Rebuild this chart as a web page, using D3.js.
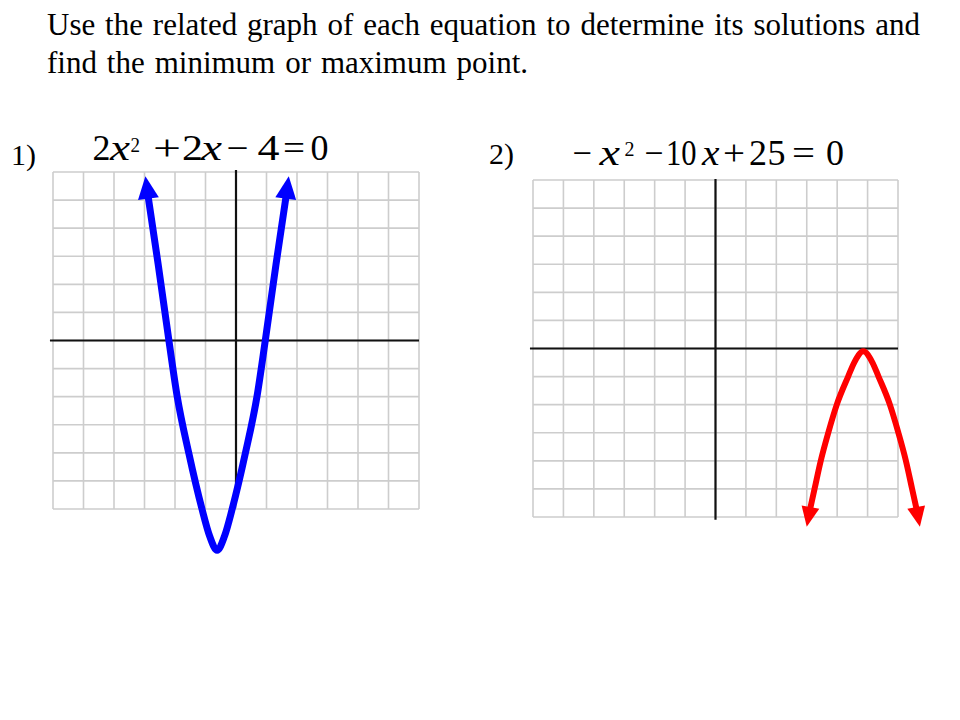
<!DOCTYPE html>
<html>
<head>
<meta charset="utf-8">
<script src="https://cdn.jsdelivr.net/npm/d3@7"></script>
<style>
  body { margin: 0; background: #fff; }
  svg { display: block; }
  text { font-family: "Times New Roman", "Liberation Serif", serif; fill: #000; }
</style>
</head>
<body>
<div id="slide"></div>
<script>
  // one grid line per unit, both graphs go from -6 to 6
  const grid_ticks = [-6, -5, -4, -3, -2, -1, 0, 1, 2, 3, 4, 5, 6];

  const title_lines = [
    "Use the related graph of each equation to determine its solutions and",
    "find the minimum or maximum point."
  ];
  const labels = ["1)", "2)"];

  // equation tokens: [text, kind]  n = normal, i = italic variable, s = superscript
  const eq1_tokens = [["2","n"],["x","i"],["2","s"],["+","n"],["2","n"],["x","i"],["\u2212","n"],["4","n"],["=","n"],["0","n"]];
  const eq2_tokens = [["\u2212","n"],["x","i"],["2","s"],["\u2212","n"],["10","n"],["x","i"],["+","n"],["2","n"],["5","n"],["=","n"],["0","n"]];

  // 1) blue curve (grid units), arrow base to arrow base
  const eq1_x = [-2.88, -2.55, -2.20, -1.93, -1.55, -1.12, -0.865, -0.62, -0.375, -0.12, 0.31, 0.69, 0.96, 1.31, 1.64];
  const eq1_y = [5.12, 2.70, 0, -1.98, -4.0, -5.98, -6.96, -7.47, -6.96, -5.98, -4.0, -1.98, 0, 2.70, 5.12];
  const eq1_tip_x = [-2.97, 1.73];
  const eq1_tip_y = [5.85, 5.85];

  // 2) red curve
  const eq2_x = [3.11, 3.26, 3.46, 3.71, 3.99, 4.36, 4.56, 4.86, 5.16, 5.36, 5.73, 6.01, 6.26, 6.46, 6.61];
  const eq2_y = [-5.72, -4.98, -4.0, -2.99, -1.99, -1.0, -0.5, -0.1, -0.5, -1.0, -1.99, -2.99, -4.0, -4.98, -5.72];
  const eq2_tip_x = [3.0, 6.72];
  const eq2_tip_y = [-6.35, -6.35];

  const width = 960, height = 720;

  const svg = d3.select("#slide")
    .append("svg")
      .attr("width", width)
      .attr("height", height);

  /* Title, justified to the width of the slide text box */
  const title_right = [920, 528];
  title_lines.forEach((line, i) => {
    const t = svg.append("text")
      .attr("x", 47)
      .attr("y", 34.5 + i * 38.8)
      .style("font-size", "31px")
      .text(line);
    const len = t.node().getComputedTextLength();
    const spaces = line.split(" ").length - 1;
    t.style("word-spacing", Math.max(0, (title_right[i] - 47 - len) / spaces) + "px");
  });

  svg.append("text").attr("x", 11).attr("y", 165).style("font-size", "30px").text(labels[0]);
  svg.append("text").attr("x", 489).attr("y", 164).style("font-size", "30px").text(labels[1]);

  // the equations come from an equation editor, glyphs are wider than plain Times,
  // so every glyph gets its own left edge and width
  const drawEquation = (tokens, layout, baseline, supBaseline) => {
    const g = svg.append("g");
    tokens.forEach((tk, i) => {
      const t = g.append("text")
        .attr("x", layout[i][0])
        .attr("y", tk[1] === "s" ? supBaseline : baseline)
        .style("font-size", tk[1] === "s" ? "20px" : "35px")
        .style("font-style", tk[1] === "i" ? "italic" : "normal")
        .text(tk[0]);
      if (layout[i][1]) {
        t.attr("textLength", layout[i][1]).attr("lengthAdjust", "spacingAndGlyphs");
      }
    });
  };

  drawEquation(eq1_tokens,
    [[92.5,18],[110,20],[130.5,9.5],[153,28],[182,21],[201,21],[226.5,22],[257.5,22],[283,22],[310.5,18]],
    160, 152);
  drawEquation(eq2_tokens,
    [[572.5,19.5],[599.5,20.5],[624.5,10],[644.5,19],[666,30.5],[702,17.5],[723,22],[749,18],[767.5,18],[792,23],[826,18]],
    165, 156);

  const createGraph = (opts) => {
    const x = d3.scaleLinear().domain([-6, 6]).range(opts.xRange);
    const y = d3.scaleLinear().domain([-6, 6]).range(opts.yRange);
    const g = svg.append("g");

    // light grid
    g.append("g")
      .selectAll("line")
      .data(grid_ticks)
      .join("line")
        .attr("x1", d => x(d)).attr("x2", d => x(d))
        .attr("y1", y(6)).attr("y2", y(-6))
        .attr("stroke", "#cdcdcd")
        .attr("stroke-width", 1.6);
    g.append("g")
      .selectAll("line")
      .data(grid_ticks)
      .join("line")
        .attr("y1", d => y(d)).attr("y2", d => y(d))
        .attr("x1", x(-6)).attr("x2", x(6))
        .attr("stroke", "#cdcdcd")
        .attr("stroke-width", 1.6);

    // axes
    g.append("line")
      .attr("x1", x(opts.xAxis[0])).attr("x2", x(opts.xAxis[1]))
      .attr("y1", y(0)).attr("y2", y(0))
      .attr("stroke", "#111").attr("stroke-width", 2.2);
    g.append("line")
      .attr("x1", x(0)).attr("x2", x(0))
      .attr("y1", y(opts.yAxis[0])).attr("y2", y(opts.yAxis[1]))
      .attr("stroke", "#111").attr("stroke-width", 2.2);

    // the parabola (x always grows along it, so monotoneX keeps it smooth
    // and flat at the vertex)
    const pts = opts.cx.map((d, i) => [d, opts.cy[i]]);
    const line = d3.line()
      .x(d => x(d[0]))
      .y(d => y(d[1]))
      .curve(d3.curveMonotoneX);
    g.append("path")
      .attr("d", line(pts))
      .attr("fill", "none")
      .attr("stroke", opts.color)
      .attr("stroke-width", opts.strokeWidth)
      .attr("stroke-linejoin", "round");

    // arrow heads, from each end of the curve out to the tip
    const ends = [pts[0], pts[pts.length - 1]];
    ends.forEach((b, i) => {
      const bx = x(b[0]), by = y(b[1]);
      const tx = x(opts.tipX[i]), ty = y(opts.tipY[i]);
      const len = Math.hypot(tx - bx, ty - by);
      const ux = (tx - bx) / len, uy = (ty - by) / len;
      const hw = opts.headHalf;
      const sx = bx - ux * 2, sy = by - uy * 2;
      g.append("path")
        .attr("d", `M${tx},${ty}L${sx - uy * hw},${sy + ux * hw}L${sx + uy * hw},${sy - ux * hw}Z`)
        .attr("fill", opts.color);
    });
  };

  createGraph({
    xRange: [53, 419], yRange: [509, 172],
    xAxis: [-6.1, 6], yAxis: [6.07, -5.4],
    cx: eq1_x, cy: eq1_y, tipX: eq1_tip_x, tipY: eq1_tip_y,
    color: "#0000ff", strokeWidth: 7, headHalf: 10.5
  });

  createGraph({
    xRange: [533, 898], yRange: [517, 180],
    xAxis: [-6.1, 6], yAxis: [6.04, -6.1],
    cx: eq2_x, cy: eq2_y, tipX: eq2_tip_x, tipY: eq2_tip_y,
    color: "#ff0000", strokeWidth: 6, headHalf: 9
  });
</script>
</body>
</html>
